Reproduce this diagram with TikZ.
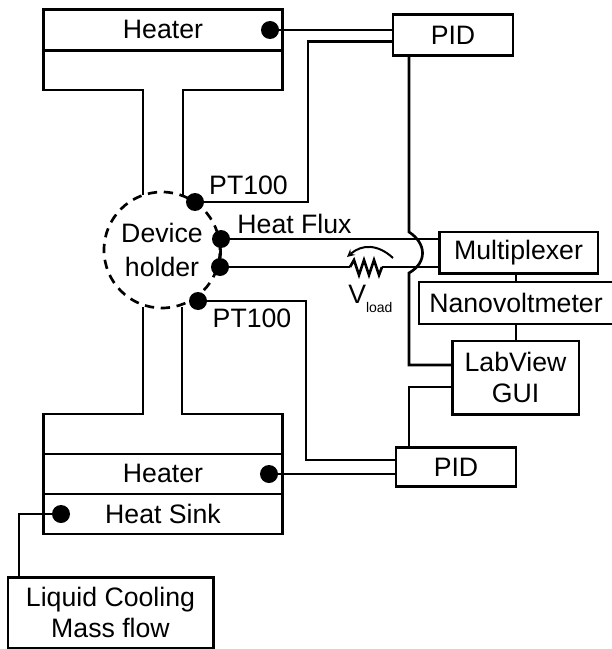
\documentclass[tikz,border=0pt]{standalone}
\usepackage{fontspec}
\setmainfont{Liberation Sans}
\usepackage{tikz}
\usetikzlibrary{positioning,shapes,arrows}
\tikzset{
    block/.style={
        rectangle,
        draw=black,
        line width=2pt,
        inner sep=0pt,
        outer sep=0pt,
        text centered,
        align=center
    },
    wire/.style={
        line width=2pt
    },
    dot/.style={
        circle,
        fill=black,
        inner sep=0pt,
        minimum size=13.5pt
    },
    label/.style={
        inner sep=0pt
    }
}
\tikzstyle{arc} = [line width=1.5pt,->,>=stealth]

\begin{document}
\begin{tikzpicture}[x=0.75pt,y=-0.75pt,node distance=30pt,font=\fontsize{20}{23.5}\selectfont]
            \useasboundingbox (0,0) rectangle (611,649);
            % heaters and heat sink
            \node (heatertop) [block, minimum width=179pt, minimum height=30.5pt, text depth=1.5pt] at (163,30) {Heater};
            \node (heaterbot) [block, minimum width=179pt, minimum height=30pt, text depth=1.5pt] at (163,474) {Heater};
            \node (heatsink) [block, minimum width=179pt, minimum height=30pt, below of=heaterbot] {Heat Sink};
            % instruments
            \node (pidtop) [block, minimum width=90pt, minimum height=31pt] at (453,35) {PID};
            \node (pidbot) [block, minimum width=90pt, minimum height=29pt] at (456,467) {PID};
            \node (mux) [block, minimum width=119pt, minimum height=31pt] at (518.5,252.5) {Multiplexer};
            \node (nano) [block, minimum width=145.5pt, minimum height=31.5pt] at (516,303) {Nanovoltmeter};
            \node (gui) [block, minimum width=95pt, minimum height=55pt] at (515.5,377.5) {LabView\\GUI};
            \node (cooling) [block, minimum width=154pt, minimum height=53pt] at (110.5,612.5) {Liquid Cooling\\Mass flow};
            % sensors on the holder
            \node (holder) [circle, draw=black, dash pattern=on 7pt off 5pt, line width=2pt, minimum size=87pt, inner sep=0pt, align=center] at (162,250) {Device\\[1.6pt]holder};
            \node (dottop) [dot] at (195,202) {};
            \node (dotflux) [dot] at (221,239) {};
            \node (dotload) [dot] at (220,267) {};
            \node (dotbot) [dot] at (198,301) {};
            \node (dotheatertop) [dot] at (270,30) {};
            \node (dotheaterbot) [dot] at (269,474) {};
            \node (dotsink) [dot] at (61,514) {};
            % labels
            \node (pttop) [label] at (248.5,185) {PT100};
            \node (ptbot) [label] at (252,318) {PT100};
            \node (flux) [label] at (294.5,224) {Heat Flux};
            \node (vload) [label, anchor=base west] at (348,303) {V\raisebox{-6.75pt}{\fontsize{10.5}{12}\selectfont load}};
            % bends
            \coordinate (finsl) at (heatertop.south west |- 0,90);
            \coordinate (finsr) at (heatertop.south east |- 0,90);
            \coordinate (necktl) at (143,195);
            \coordinate (necktr) at (183,195);
            \coordinate (neckbl) at (143,307);
            \coordinate (neckbr) at (182,307);
            \coordinate (finbl) at (heaterbot.north west |- 0,414);
            \coordinate (finbr) at (heaterbot.north east |- 0,414);
            \coordinate (cornertop) at (308,41.5);
            \coordinate (cornerbot) at (306,460);
            \coordinate (hopin) at (409,232);
            \coordinate (hopout) at (409,273);
            \coordinate (guiin) at (409,365);
            \coordinate (guiout) at (409,387);
            \coordinate (cornersink) at (19,514);
            \coordinate (resin) at (350,267);
            \coordinate (resout) at (382,267);
            % body of the holder
            \draw [wire] (heatertop.south west) -- (finsl) -- (necktl |- finsl) -- (necktl);
            \draw [wire] (heatertop.south east) -- (finsr) -- (necktr |- finsr) -- (necktr);
            \draw [wire] (heaterbot.north west) -- (finbl) -- (neckbl |- finbl) -- (neckbl);
            \draw [wire] (heaterbot.north east) -- (finbr) -- (neckbr |- finbr) -- (neckbr);
            % connections
            \draw [wire] (dotheatertop) -- (dotheatertop -| pidtop.west);
            \draw [wire] (dottop) -| (cornertop) -- (cornertop -| pidtop.west);
            \draw [wire] (dotbot) -| (cornerbot) -- (cornerbot -| pidbot.west);
            \draw [wire] (dotheaterbot) -- (dotheaterbot -| pidbot.west);
            \draw [wire] (dotsink) -| (cornersink |- cooling.north);
            \draw [wire] (dotflux) -- (dotload);
            \draw [wire] (dotflux) -- (dotflux -| mux.west);
            \draw [wire] (dotload) -- (resin);
            \draw [wire, line join=miter] (resin) -- ++(4,-7) -- ++(5,15) -- ++(5,-15) -- ++(5,15) -- ++(5,-15) -- ++(5,15) -- (resout);
            \draw [wire] (resout) -- (resout -| mux.west);
            \draw [wire] (hopin |- pidtop.south) -- (hopin) .. controls (426,243) and (428,262) .. (hopout) -- (guiin) -- (guiin -| gui.west);
            \draw [wire] (guiout -| gui.west) -- (guiout) -- (guiout |- pidbot.north);
            \draw [wire] (mux.south -| 516,0) -- (nano.north -| 516,0);
            \draw [wire] (nano.south -| 516,0) -- (gui.north -| 516,0);
            \draw [arc] (393,258) .. controls (378,244) and (362,244) .. (347,257);
        \end{tikzpicture}
\end{document}
